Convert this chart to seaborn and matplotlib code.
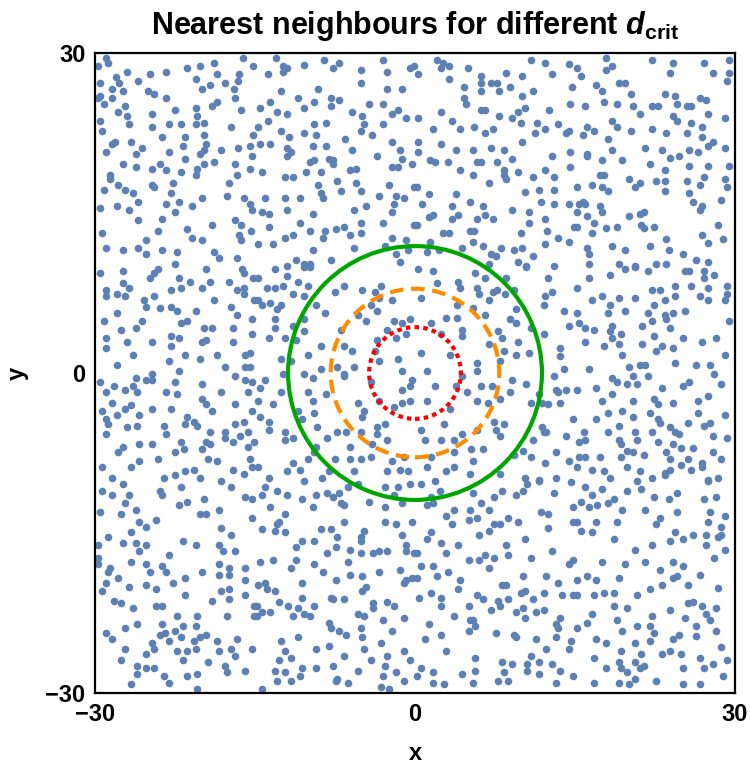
import numpy as np
import pandas as pd
import matplotlib
matplotlib.use("Agg")
import matplotlib.pyplot as plt
from matplotlib.patches import Circle
import seaborn as sns

# ---- data: point positions, grouped by region ----
pts_top_w = [(-29.0,29.5),(-28.75,29.1),(-29.75,28.75),(-16.1,29.5),(-15.2,28.75),(-27.0,28.2),(-28.0,27.75),(-27.75,27.2),(-29.55,27.2),(-26.0,27.4),(-24.85,28.0),(-23.3,28.2),(-21.35,28.55),(-20.15,28.75),(-18.8,29.1),(-18.6,28.0),(-20.55,27.6),(-17.8,27.2),(-16.5,28.0),(-16.6,27.4),(-17.0,26.6),(-19.2,27.0),(-20.0,26.6),(-28.4,26.6),(-27.4,26.4),(-28.4,25.8),(-29.55,26.0),(-29.75,25.8),(-29.15,25.2),(-25.05,26.4),(-24.45,26.2),(-23.3,25.8),(-19.0,25.0),(-18.6,25.4),(-16.85,25.8),(-20.55,24.85),(-27.2,25.0),(-27.8,24.45),(-27.0,24.05),(-24.65,24.25),(-22.5,24.65),(-16.3,24.65),(-20.4,24.05),(-29.55,23.65),(-26.8,23.3),(-24.65,23.1),(-23.1,23.3),(-21.95,23.3),(-20.55,23.3),(-19.8,23.45),(-17.25,23.1),(-29.35,22.7),(-19.8,22.3),(-21.55,22.1),(-23.7,22.1),(-15.2,22.3),(-28.15,21.7),(-28.4,21.5),(-26.6,21.7),(-19.6,21.5),(-21.75,21.3),(-25.6,21.1),(-28.95,20.7),(-26.2,20.5),(-23.1,20.7),(-19.8,20.9),(-18.2,20.9),(-16.6,21.1),(-15.45,21.3),(-20.15,20.5),(-15.3,20.35),(-21.55,20.1),(-18.8,19.75),(-19.8,19.55),(-23.9,19.55),(-27.4,19.55),(-26.2,19.35),(-24.65,19.15),(-23.3,19.0),(-21.95,18.8),(-20.4,19.15),(-20.55,18.6),(-16.85,19.55),(-15.45,19.15),(-16.65,18.6),(-28.55,18.6),(-28.55,18.2),(-22.7,17.8),(-17.45,17.8),(-29.15,17.2),(-27.8,17.6),(-27.2,17.2),(-24.65,17.6),(-24.45,17.4),(-26.4,16.85),(-22.9,16.85),(-20.0,16.45),(-17.6,16.6),(-16.05,16.45),(-26.0,16.05),(-22.1,16.05),(-15.45,15.85),(-29.55,15.45),(-27.95,15.65),(-26.8,15.25),(-23.3,15.85),(-20.95,15.65),(-22.5,15.05),(-15.3,15.25),(-23.7,14.45),(-26.0,14.3),(-16.85,14.3),(-16.3,13.9),(-19.0,13.9),(-21.35,13.5),(-24.1,13.3),(-29.35,13.1),(-15.35,13.3),(-16.5,12.9),(-16.3,12.5),(-20.95,12.7),(-20.0,12.5),(-25.25,12.5),(-28.95,11.75),(-27.4,11.55),(-26.0,11.75),(-23.7,11.55),(-22.3,11.35),(-25.25,11.15),(-18.8,11.35),(-18.4,10.8),(-16.65,10.8),(-22.5,10.2)]

pts_top_cw = [(-13.0,29.5),(-12.4,28.75),(-12.0,28.55),(-12.4,28.2),(-13.75,28.0),(-10.4,28.9),(-8.5,29.35),(-7.7,28.55),(-7.1,29.1),(-5.1,28.4),(-5.1,27.2),(-3.0,29.35),(-2.6,28.2),(-0.5,28.55),(-0.1,28.75),(-12.55,26.4),(-9.05,26.6),(-11.0,25.8),(-13.55,25.4),(-14.5,24.85),(-12.95,24.45),(-12.0,24.25),(-10.4,24.85),(-9.45,25.4),(-7.9,25.8),(-7.9,25.0),(-7.1,25.6),(-4.35,25.2),(-3.0,25.2),(-2.6,26.6),(-1.25,26.6),(-2.2,24.25),(-1.6,24.65),(-0.85,23.9),(-5.9,24.45),(-4.95,24.05),(-4.75,23.3),(-3.0,23.3),(-5.1,22.7),(-4.0,22.3),(-13.75,23.65),(-14.7,23.1),(-12.55,22.7),(-11.8,22.1),(-10.4,22.5),(-9.25,22.3),(-9.45,23.3),(-8.3,23.45),(-14.5,21.5),(-13.55,21.5),(-12.0,21.1),(-11.6,20.75),(-12.0,20.35),(-9.6,21.3),(-8.3,21.3),(-6.55,21.9),(-5.9,20.95),(-2.2,21.7),(-1.45,20.95),(-1.25,20.1),(-0.3,19.55),(-3.55,20.35),(-2.2,19.35),(-1.6,19.35),(-9.85,19.75),(-9.45,19.95),(-8.05,20.1),(-7.7,19.95),(-7.7,19.55),(-14.3,18.8),(-10.2,18.8),(-8.85,18.8),(-6.1,19.0),(-5.55,19.15),(-12.2,18.4),(-11.4,18.4),(-7.3,18.0),(-9.05,17.6),(-5.55,17.8),(-8.85,16.85),(-8.65,16.45),(-6.9,17.05),(-5.1,17.05),(-3.4,16.6),(-2.4,17.6),(-1.8,16.6),(-1.0,16.45),(-0.05,17.4),(-14.1,16.45),(-12.15,16.45),(-10.8,16.45),(-2.0,15.85),(-12.0,15.25),(-14.3,15.05),(-13.7,14.9),(-9.6,14.9),(-5.7,15.25),(-4.55,15.65),(-2.2,15.05),(-10.8,14.1),(-13.7,13.7),(-9.8,13.3),(-8.45,13.3),(-7.45,13.5),(-6.7,13.7),(-5.1,14.1),(-3.0,14.1),(-0.05,13.9),(-5.1,13.1),(-6.1,12.9),(-8.65,12.7),(-11.4,12.9),(-12.15,12.7),(-14.7,12.1),(-13.35,12.1),(-2.2,12.7),(-0.85,12.5),(-5.7,11.75),(-2.8,11.95),(-0.65,11.55),(-1.8,11.15),(-9.6,11.55),(-11.2,10.55),(-10.4,10.2),(-9.8,10.2),(-7.9,10.55),(-12.0,10.0),(-1.45,10.4)]

pts_top_ce = [(2.05,29.35),(2.6,29.1),(2.45,28.55),(3.2,28.75),(5.0,28.55),(0.3,28.0),(3.2,27.6),(6.15,27.8),(6.15,27.2),(7.1,27.2),(7.7,27.2),(8.5,28.15),(10.05,27.8),(10.85,29.35),(12.2,29.1),(12.8,28.0),(14.4,28.95),(14.75,26.8),(4.6,26.8),(4.8,25.2),(4.6,25.8),(6.15,26.4),(7.9,26.4),(8.9,26.8),(10.05,26.0),(11.05,26.4),(14.55,25.2),(6.15,24.65),(6.55,24.65),(10.3,24.85),(9.7,24.45),(12.6,24.65),(2.45,24.45),(0.3,23.9),(7.9,24.05),(9.1,23.9),(9.9,23.45),(11.45,23.45),(13.4,23.3),(14.2,22.5),(14.4,22.7),(12.2,22.9),(11.25,22.5),(3.45,23.65),(1.65,22.9),(4.2,22.9),(5.55,23.1),(6.55,22.5),(7.35,22.9),(0.3,21.7),(0.3,20.75),(2.45,21.5),(3.8,20.95),(5.4,20.95),(7.15,21.1),(8.3,20.95),(10.05,21.7),(14.55,20.75),(12.8,20.35),(1.45,19.95),(1.9,19.75),(3.05,19.75),(5.8,19.75),(6.15,19.75),(7.7,19.75),(9.1,20.1),(14.55,19.35),(4.2,19.0),(5.4,18.55),(8.3,19.0),(8.3,18.55),(8.5,18.2),(9.7,18.8),(11.05,18.4),(12.2,19.0),(13.0,18.4),(6.95,17.8),(0.15,17.4),(1.3,16.8),(0.7,15.85),(3.8,16.8),(10.3,17.0),(11.6,17.2),(13.0,17.2),(3.45,15.65),(5.2,16.05),(6.4,15.65),(9.1,15.25),(11.85,16.05),(13.0,15.85),(14.4,15.85),(1.3,14.65),(1.65,14.85),(3.45,14.45),(4.0,14.85),(5.8,14.45),(6.55,14.85),(7.35,14.45),(10.65,15.05),(10.65,14.05),(12.2,14.45),(14.95,13.7),(0.15,13.9),(2.65,13.1),(3.2,13.1),(5.2,13.3),(5.55,13.3),(5.4,12.3),(9.9,13.1),(12.4,13.3),(13.4,12.7),(14.4,12.3),(1.45,12.3),(1.1,11.35),(2.25,11.55),(4.4,11.75),(6.4,11.95),(8.1,11.75),(9.3,11.55),(10.05,11.75),(12.2,12.1),(7.15,11.15),(7.55,10.95),(11.05,10.95),(9.7,10.4),(6.95,10.2),(10.45,10.0),(13.0,10.0)]

pts_top_e = [(17.9,29.5),(15.2,28.55),(15.55,27.8),(17.9,28.4),(18.5,28.75),(22.2,29.35),(24.15,29.1),(23.95,28.15),(27.1,29.1),(27.9,28.15),(29.45,29.35),(29.45,28.15),(29.25,27.4),(16.95,27.0),(17.55,26.4),(19.1,27.2),(19.7,27.2),(20.25,26.2),(17.7,25.4),(18.9,25.2),(15.95,25.0),(20.45,25.0),(21.05,24.25),(23.4,26.2),(24.35,26.0),(24.55,25.2),(22.2,25.0),(22.8,25.0),(25.5,25.0),(25.9,25.0),(26.7,25.8),(27.3,25.6),(27.45,24.25),(24.15,24.05),(24.55,23.65),(25.9,23.45),(29.05,23.9),(18.5,23.65),(18.9,23.1),(16.15,23.1),(16.75,22.7),(15.75,22.3),(20.25,22.7),(22.2,22.9),(23.55,22.5),(25.5,22.5),(26.9,23.1),(26.9,22.1),(18.1,21.9),(18.5,20.95),(16.15,20.55),(16.15,20.35),(21.6,21.1),(23.2,20.95),(23.95,20.15),(24.75,20.35),(25.7,20.95),(26.5,20.75),(27.45,21.3),(27.9,21.7),(29.05,21.1),(17.55,19.95),(19.45,19.95),(22.0,19.55),(23.4,19.0),(25.7,19.4),(27.45,19.4),(29.45,19.4),(17.3,18.6),(17.7,18.6),(20.05,18.2),(21.05,17.8),(20.65,17.4),(22.6,18.0),(23.4,18.0),(23.4,17.05),(25.5,18.0),(27.1,18.4),(29.05,18.2),(29.25,17.4),(26.7,17.6),(25.7,16.85),(26.1,16.05),(26.9,15.65),(26.7,15.25),(28.65,16.25),(15.2,17.4),(16.55,17.6),(17.55,17.4),(18.1,17.05),(15.4,15.85),(15.75,16.05),(15.95,15.85),(17.3,15.65),(17.55,15.05),(15.2,15.05),(16.15,14.7),(16.75,14.1),(15.2,13.7),(16.55,13.1),(17.9,13.55),(18.9,13.7),(20.05,14.7),(21.05,14.9),(21.45,15.05),(21.2,13.9),(21.45,13.55),(22.4,13.7),(23.55,12.55),(23.8,11.55),(22.0,11.95),(18.5,11.95),(16.15,11.75),(16.35,11.15),(19.65,11.55),(25.1,11.15),(26.3,10.6),(27.45,10.4),(26.9,12.95),(27.45,12.15),(28.45,13.9),(28.85,12.55),(16.35,10.2),(19.1,10.2),(20.65,10.0),(22.6,10.2),(23.55,10.2)]

pts_mid_w = [(-29.55,9.35),(-27.4,9.55),(-24.85,8.95),(-24.45,9.35),(-24.05,9.75),(-22.1,8.95),(-21.1,8.55),(-19.55,9.75),(-19.2,8.55),(-17.45,8.55),(-16.25,9.75),(-16.05,9.35),(-15.2,8.95),(-19.95,7.95),(-21.9,7.95),(-22.9,7.8),(-28.95,7.8),(-28.95,7.2),(-27.95,7.4),(-27.2,7.2),(-27.4,8.4),(-26.8,7.95),(-24.45,7.2),(-25.45,6.8),(-25.2,6.2),(-23.9,6.05),(-22.9,6.2),(-22.3,5.8),(-20.55,5.8),(-18.8,6.8),(-17.25,6.2),(-16.65,5.45),(-16.05,7.95),(-16.05,7.4),(-16.65,7.8),(-15.1,6.8),(-27.95,5.6),(-29.15,4.85),(-27.6,4.05),(-26.2,4.25),(-25.6,4.85),(-21.9,4.65),(-21.35,4.85),(-19.8,4.25),(-19.0,4.25),(-17.05,4.25),(-15.3,5.05),(-15.3,3.65),(-28.95,3.3),(-28.95,2.3),(-27.0,2.9),(-24.65,2.9),(-22.9,3.45),(-22.1,3.3),(-22.9,2.5),(-19.95,2.9),(-19.55,3.1),(-17.05,2.9),(-26.4,1.7),(-21.55,1.7),(-20.15,1.3),(-18.6,1.7),(-15.9,1.7),(-15.45,1.9),(-23.1,1.1),(-27.95,0.75),(-17.8,0.55),(-15.9,0.55),(-15.45,0.55),(-22.1,0.15),(-24.65,-0.05),(-24.65,-0.65),(-25.25,-0.65),(-26.2,-0.45),(-29.55,-0.85),(-28.2,-1.2),(-28.95,-1.8),(-27.2,-1.6),(-26.4,-1.2),(-26.05,-1.8),(-23.3,-1.8),(-22.5,-0.85),(-22.3,-2.0),(-19.95,-1.05),(-18.2,-1.8),(-16.85,-0.25),(-15.9,-0.65),(-15.3,-0.85),(-15.7,-1.8),(-28.4,-2.8),(-26.6,-3.0),(-27.2,-3.4),(-29.35,-3.55),(-27.95,-3.95),(-25.85,-3.95),(-28.95,-4.35),(-28.75,-4.75),(-24.65,-3.4),(-22.9,-3.4),(-19.95,-2.4),(-19.55,-2.95),(-19.0,-3.55),(-16.85,-2.95),(-15.3,-3.55),(-28.95,-5.7),(-27.0,-5.1),(-26.05,-4.95),(-23.5,-4.95),(-23.3,-5.7),(-21.35,-4.15),(-21.55,-4.75),(-20.75,-4.55),(-20.4,-4.95),(-19.2,-5.55),(-17.8,-5.55),(-17.8,-6.1),(-16.85,-4.75),(-16.05,-4.55),(-15.7,-5.55),(-16.45,-5.9),(-17.05,-6.5),(-15.1,-6.5),(-15.7,-6.9),(-21.9,-6.5),(-21.7,-7.1),(-19.6,-6.5),(-19.2,-6.7),(-19.95,-7.1),(-24.65,-6.7),(-25.85,-6.7),(-27.4,-6.9),(-27.8,-7.45),(-22.5,-7.45),(-24.05,-8.05),(-25.85,-8.25),(-26.6,-8.85),(-29.35,-8.85),(-28.4,-9.8),(-23.5,-9.8),(-22.5,-9.6),(-21.55,-9.2),(-20.75,-9.05),(-20.15,-9.8),(-19.4,-8.05),(-18.6,-8.25),(-17.05,-9.05),(-16.05,-9.45),(-15.45,-8.05),(-15.3,-8.85)]

pts_mid_cw = [(-13.1,9.75),(-10.4,9.9),(-9.8,9.9),(-14.7,8.95),(-13.9,7.95),(-13.1,7.95),(-12.4,8.2),(-12.0,9.1),(-11.0,8.55),(-10.0,8.2),(-11.4,7.4),(-10.4,7.2),(-9.25,6.4),(-8.45,5.6),(-14.7,6.8),(-13.55,6.6),(-14.3,6.4),(-12.95,6.0),(-12.55,6.4),(-13.1,5.05),(-13.1,4.25),(-10.4,5.05),(-11.4,4.45),(-10.4,3.9),(-13.7,3.3),(-12.15,3.3),(-11.2,3.1),(-7.5,7.6),(-6.7,8.2),(-4.95,7.8),(-3.75,7.6),(-3.2,8.2),(-3.4,7.0),(-2.2,6.8),(-4.15,6.4),(-3.55,5.8),(-5.35,5.45),(-4.55,4.85),(-6.9,4.05),(-8.85,2.5),(-6.7,2.5),(-5.9,2.1),(-2.0,4.85),(-1.25,4.65),(-0.45,5.05),(-2.6,4.05),(-1.8,3.3),(-0.85,3.65),(-3.55,3.1),(-3.75,2.1),(-1.6,1.3),(-3.4,1.1),(-10.0,1.7),(-12.55,1.3),(-11.6,1.1),(-7.3,0.55),(-5.7,0.55),(-6.7,-0.05),(-6.7,-0.25),(-10.4,-0.05),(-9.6,-0.45),(-8.85,0.35),(-1.2,0.15),(-0.25,-0.65),(-12.35,-0.05),(-14.1,-0.65),(-14.5,-1.4),(-12.55,-1.8),(-10.0,-1.8),(-8.3,-2.0),(-14.7,-2.6),(-13.35,-2.95),(-9.6,-2.6),(-1.2,-1.6),(-0.45,-1.2),(-4.15,-0.85),(-3.4,-2.6),(-1.2,-2.8),(-0.45,-2.6),(-5.35,-2.8),(-4.75,-3.55),(-4.95,-4.15),(-2.0,-3.2),(-11.0,-3.55),(-9.45,-3.75),(-10.6,-4.35),(-14.5,-4.15),(-13.7,-4.55),(-13.7,-5.3),(-12.15,-5.55),(-11.4,-6.1),(-9.2,-5.1),(-7.3,-5.55),(-6.5,-5.55),(-5.1,-5.55),(-3.55,-5.1),(-2.8,-4.75),(-3.55,-5.7),(-2.6,-6.3),(-8.25,-6.1),(-9.25,-6.9),(-12.15,-6.3),(-6.1,-6.9),(-4.0,-6.7),(-2.2,-8.25),(-1.05,-7.9),(-5.1,-8.05),(-4.15,-7.9),(-6.1,-8.05),(-7.5,-8.05),(-10.05,-8.05),(-11.4,-8.45),(-12.0,-9.2),(-10.8,-9.05),(-14.7,-8.85),(-13.7,-9.8),(-2.6,-9.2),(-1.45,-9.05),(-0.65,-9.2),(-5.7,-9.2),(-8.05,-9.2),(-8.7,-9.8),(-9.45,-7.45)]

pts_mid_ce = [(0.3,9.75),(1.7,9.55),(5.6,9.35),(6.55,8.95),(8.5,8.95),(10.45,9.9),(12.45,8.95),(2.1,8.4),(4.05,8.55),(4.25,7.95),(5.8,7.95),(6.0,7.4),(7.35,7.6),(7.7,7.8),(8.4,7.4),(9.3,7.8),(6.95,6.8),(0.55,7.0),(3.9,6.4),(5.4,6.05),(9.5,6.0),(12.05,6.4),(12.2,7.2),(12.8,7.6),(14.0,5.8),(14.4,4.45),(2.9,5.2),(3.9,5.2),(6.55,5.45),(8.9,5.05),(9.5,4.65),(10.9,4.25),(1.5,4.65),(4.45,4.05),(4.45,3.45),(2.45,3.65),(7.75,3.9),(8.15,3.3),(12.05,3.65),(0.55,1.9),(3.25,1.7),(6.95,2.7),(8.35,2.1),(9.7,2.9),(10.7,1.9),(9.5,1.7),(13.6,2.3),(13.6,1.55),(14.0,0.35),(5.8,0.95),(5.8,0.15),(7.95,1.1),(1.15,0.15),(4.45,-0.25),(13.05,-0.25),(1.9,-1.2),(3.85,-1.2),(6.2,-1.2),(7.2,-1.2),(9.1,-0.65),(10.45,-1.05),(8.95,-1.8),(4.85,-1.8),(1.15,-2.6),(5.8,-2.6),(6.8,-2.8),(7.95,-2.4),(10.9,-2.8),(11.65,-2.0),(11.9,-2.8),(12.45,-2.95),(13.2,-1.6),(13.45,-1.8),(14.2,-1.6),(13.6,-2.8),(3.25,-3.4),(0.55,-5.3),(2.7,-4.75),(7.4,-4.55),(8.35,-4.75),(7.55,-5.3),(7.95,-5.9),(5.8,-5.3),(4.45,-5.7),(0.9,-6.3),(2.45,-6.3),(3.65,-6.3),(11.05,-6.3),(12.05,-5.55),(11.9,-5.1),(12.3,-5.55),(14.8,-4.35),(14.2,-5.9),(5.25,-7.1),(6.4,-7.1),(3.65,-7.45),(1.5,-7.9),(1.15,-8.85),(2.9,-9.2),(3.65,-8.85),(5.4,-8.25),(9.3,-7.65),(10.1,-7.3),(10.9,-7.9),(12.2,-8.45),(13.2,-7.45),(14.4,-8.25),(5.2,-9.45),(7.95,-9.45),(10.3,-9.8),(11.65,-10.0),(13.2,-9.8)]

pts_mid_e = [(16.35,8.95),(18.3,9.15),(19.7,9.75),(20.65,9.9),(21.8,9.55),(25.35,9.55),(25.7,9.55),(27.1,9.55),(27.1,8.95),(28.05,9.15),(15.2,7.95),(16.55,6.8),(17.55,7.2),(18.3,6.4),(19.1,7.0),(20.65,7.0),(22.2,7.8),(23.0,7.8),(22.4,6.4),(23.4,6.8),(24.35,8.2),(24.35,7.2),(25.9,8.2),(26.7,7.2),(27.45,7.95),(27.45,6.8),(29.25,8.2),(29.25,7.4),(29.05,6.8),(15.2,5.6),(18.1,5.6),(19.7,5.8),(21.8,5.6),(22.2,4.85),(23.4,5.45),(23.55,5.05),(24.15,5.6),(25.35,5.8),(23.95,4.25),(21.25,4.45),(15.4,4.65),(15.95,4.25),(16.75,4.05),(18.5,4.45),(18.3,3.9),(18.5,3.3),(19.3,3.65),(22.4,3.45),(15.95,2.9),(17.7,2.5),(19.1,2.7),(21.25,2.7),(22.6,2.1),(23.2,2.5),(24.15,2.3),(25.1,3.3),(26.9,2.9),(28.25,3.3),(29.45,4.85),(19.45,1.7),(29.05,1.7),(16.35,0.35),(20.05,0.55),(21.05,0.75),(21.6,0.75),(20.45,-0.25),(21.8,-0.25),(18.5,-0.45),(18.9,-0.85),(19.9,-1.05),(20.85,-1.05),(24.4,0.95),(26.3,0.75),(27.7,0.75),(28.05,-0.05),(28.65,-1.05),(25.7,-0.85),(25.1,-1.2),(23.2,-1.4),(15.2,-1.6),(16.95,-1.4),(18.5,-2.0),(17.55,-2.6),(20.45,-2.6),(22.4,-2.4),(22.8,-2.95),(24.15,-2.8),(26.55,-2.6),(27.5,-2.2),(29.05,-3.95),(26.5,-3.75),(18.1,-3.75),(19.45,-3.55),(16.95,-4.35),(20.45,-4.15),(22.05,-3.75),(22.8,-4.35),(23.0,-4.7),(25.55,-4.7),(27.1,-4.95),(27.7,-4.7),(19.1,-4.95),(15.8,-5.55),(18.1,-5.55),(20.65,-5.55),(22.2,-5.55),(23.95,-5.1),(24.4,-5.55),(24.75,-5.7),(15.4,-6.5),(15.95,-6.3),(19.1,-6.3),(19.3,-6.7),(20.85,-6.3),(22.8,-6.5),(24.15,-6.7),(24.95,-7.05),(26.1,-7.05),(27.9,-5.9),(29.25,-6.1),(27.9,-7.45),(28.65,-8.05),(19.9,-7.3),(20.45,-7.45),(21.45,-7.65),(19.3,-7.9),(17.35,-7.9),(15.4,-7.9),(15.95,-7.9),(23.55,-7.45),(23.95,-8.05),(25.55,-8.05),(26.9,-8.45),(26.9,-8.85),(24.95,-8.65),(23.95,-9.05),(23.4,-9.4),(23.4,-9.6),(22.2,-9.8),(21.05,-9.2),(19.9,-8.85),(17.7,-9.2),(16.55,-9.05),(15.2,-8.85),(18.3,-9.8),(25.9,-9.05),(28.45,-9.8),(27.45,-10.0)]

pts_bot_w = [(-27.4,-10.45),(-29.35,-11.05),(-28.4,-11.45),(-26.8,-11.45),(-23.9,-11.05),(-23.7,-11.45),(-21.95,-10.65),(-18.2,-10.1),(-17.25,-10.65),(-15.9,-11.6),(-15.3,-11.85),(-19.8,-11.85),(-21.35,-12.05),(-22.1,-12.4),(-27.2,-12.2),(-29.55,-13.0),(-27.6,-13.2),(-26.2,-12.8),(-20.15,-13.2),(-19.6,-13.2),(-18.4,-12.8),(-15.3,-13.6),(-24.3,-13.8),(-25.85,-13.95),(-25.25,-14.4),(-18.2,-14.55),(-17.25,-15.15),(-26.6,-14.95),(-28.75,-15.35),(-27.4,-15.95),(-26.2,-15.95),(-25.25,-16.1),(-25.85,-16.7),(-21.75,-15.75),(-20.55,-16.1),(-18.4,-16.1),(-18.0,-16.7),(-16.85,-16.7),(-29.75,-16.1),(-29.75,-17.3),(-29.75,-17.9),(-23.1,-17.1),(-26.6,-17.7),(-25.25,-17.9),(-23.7,-18.1),(-23.3,-18.7),(-24.85,-18.7),(-28.55,-18.3),(-28.75,-18.7),(-19.95,-18.7),(-18.4,-17.9),(-18.4,-18.9),(-17.45,-18.3),(-17.45,-18.9),(-15.9,-18.3),(-15.9,-19.45),(-15.9,-20.85),(-27.8,-19.25),(-28.95,-19.65),(-29.35,-20.45),(-26.8,-20.05),(-25.25,-19.85),(-24.3,-20.25),(-22.7,-19.65),(-21.55,-19.25),(-21.55,-20.85),(-18.2,-20.45),(-17.45,-20.25),(-17.45,-21.2),(-19.0,-21.4),(-28.2,-21.4),(-27.6,-21.6),(-26.4,-22.0),(-24.3,-21.8),(-23.7,-21.8),(-22.3,-22.8),(-20.4,-22.8),(-17.6,-22.8),(-15.1,-21.8),(-15.1,-22.8),(-28.95,-24.35),(-28.4,-24.95),(-27.2,-23.95),(-26.05,-23.55),(-23.7,-23.55),(-23.9,-24.55),(-23.45,-24.35),(-22.5,-24.15),(-21.75,-23.75),(-20.55,-23.75),(-21.95,-24.75),(-23.1,-25.1),(-20.75,-25.1),(-20.15,-24.75),(-19.6,-24.55),(-18.6,-25.1),(-16.65,-24.95),(-24.65,-25.3),(-24.45,-25.9),(-25.25,-26.3),(-27.2,-25.9),(-27.6,-26.9),(-22.3,-26.1),(-21.35,-26.1),(-20.55,-25.9),(-21.75,-26.9),(-19.4,-27.1),(-18.4,-26.1),(-17.25,-25.9),(-16.85,-26.5),(-15.3,-25.9),(-17.8,-27.45),(-17.6,-28.05),(-15.9,-27.9),(-26.05,-27.45),(-26.05,-28.25),(-25.25,-27.7),(-24.45,-27.7),(-23.5,-28.45),(-23.1,-29.05),(-26.6,-29.2),(-21.35,-28.45),(-20.4,-28.25),(-20.4,-29.6)]

pts_bot_cw = [(-10.4,-10.1),(-14.1,-10.65),(-14.3,-11.45),(-12.95,-11.05),(-12.0,-11.45),(-10.6,-11.85),(-9.25,-11.45),(-8.25,-11.25),(-7.65,-11.6),(-7.1,-11.25),(-6.9,-12.2),(-6.7,-12.4),(-6.3,-10.65),(-5.3,-10.45),(-4.35,-12.05),(-2.8,-10.65),(-1.6,-10.65),(-0.45,-10.45),(-2.0,-11.45),(-1.2,-12.2),(-2.8,-12.6),(-13.55,-12.6),(-12.15,-13.2),(-9.6,-12.6),(-12.75,-14.0),(-12.95,-14.2),(-13.15,-14.8),(-14.3,-14.6),(-12.15,-14.95),(-8.85,-14.6),(-7.9,-14.6),(-7.3,-15.35),(-6.7,-14.0),(-10.6,-15.75),(-9.45,-15.75),(-11.2,-16.35),(-8.25,-16.9),(-7.45,-16.35),(-6.1,-16.55),(-5.1,-15.35),(-5.1,-15.75),(-4.75,-14.8),(-2.8,-14.0),(-1.8,-14.2),(-1.2,-15.15),(-0.25,-14.0),(-0.85,-16.1),(-0.85,-16.7),(-0.05,-16.9),(-3.95,-16.9),(-3.4,-16.7),(-2.6,-16.7),(-5.1,-16.9),(-14.55,-17.7),(-13.35,-17.5),(-11.2,-17.5),(-11.6,-18.3),(-9.45,-17.9),(-8.65,-18.7),(-6.3,-17.7),(-6.1,-18.9),(-4.95,-19.05),(-3.4,-18.7),(-1.45,-18.45),(-0.25,-19.25),(-1.05,-19.65),(-0.85,-19.45),(-7.45,-19.45),(-10.6,-19.65),(-14.7,-19.85),(-14.1,-19.65),(-13.9,-20.25),(-13.15,-20.45),(-4.55,-20.05),(-4.95,-20.45),(-12.75,-21.45),(-11.95,-21.8),(-11.0,-22.0),(-10.6,-21.05),(-9.45,-21.8),(-7.9,-21.05),(-7.7,-21.2),(-6.7,-21.2),(-3.95,-21.6),(-3.95,-22.0),(-2.6,-21.45),(-2.0,-21.8),(-1.05,-22.95),(-14.85,-21.8),(-14.3,-22.4),(-13.55,-22.4),(-14.85,-22.8),(-11.4,-22.8),(-10.4,-22.6),(-9.8,-22.8),(-8.05,-23.4),(-7.9,-23.95),(-7.1,-24.15),(-6.5,-24.55),(-5.35,-22.6),(-4.75,-22.8),(-5.1,-23.95),(-4.95,-24.75),(-3.0,-23.2),(-2.2,-24.15),(-11.0,-24.75),(-12.55,-25.1),(-12.15,-26.1),(-11.6,-26.7),(-12.75,-26.9),(-9.25,-25.9),(-8.05,-25.55),(-6.7,-26.5),(-4.75,-25.9),(-4.15,-26.9),(-3.2,-25.35),(-2.6,-26.5),(-1.05,-26.1),(-0.45,-26.9),(-2.8,-27.45),(-3.0,-28.45),(-1.8,-28.05),(-1.05,-28.85),(-13.15,-27.9),(-12.15,-28.05),(-10.8,-28.45),(-10.6,-27.7),(-9.25,-27.7),(-7.7,-27.45),(-7.45,-28.85),(-7.3,-28.65),(-6.3,-29.05),(-5.35,-27.9),(-12.95,-28.85),(-11.6,-28.85),(-14.3,-29.6),(-3.2,-29.45),(-2.4,-29.6)]

pts_bot_ce = [(0.55,-10.45),(1.9,-10.1),(2.3,-11.05),(1.5,-11.6),(1.15,-12.4),(1.7,-12.2),(5.4,-11.25),(7.4,-11.6),(8.15,-11.05),(9.5,-11.45),(10.1,-11.05),(10.5,-10.45),(11.65,-10.1),(13.05,-11.25),(14.6,-10.25),(14.8,-12.6),(2.9,-13.4),(3.65,-12.8),(3.45,-14.2),(5.2,-12.8),(5.05,-13.8),(5.8,-13.6),(6.2,-12.2),(6.95,-12.8),(6.0,-15.15),(6.95,-14.8),(7.4,-14.2),(7.95,-14.2),(8.7,-13.6),(9.7,-14.0),(11.85,-13.0),(12.45,-13.2),(12.45,-14.55),(1.5,-14.95),(1.15,-15.55),(2.45,-15.95),(4.05,-16.1),(2.9,-16.9),(0.15,-16.9),(0.55,-18.1),(1.7,-18.1),(5.05,-17.5),(6.0,-17.5),(6.6,-17.1),(7.4,-17.3),(6.95,-18.3),(8.55,-16.1),(8.7,-17.1),(10.3,-15.55),(10.9,-17.3),(12.8,-16.7),(14.4,-17.9),(14.8,-17.5),(14.8,-14.0),(2.1,-19.05),(3.05,-18.7),(4.25,-19.45),(4.05,-20.25),(0.15,-19.25),(0.35,-21.05),(1.5,-20.6),(2.45,-21.05),(2.45,-21.8),(5.8,-20.85),(6.4,-21.2),(5.05,-21.8),(3.65,-22.8),(7.75,-21.4),(7.95,-21.8),(7.15,-22.2),(8.7,-21.2),(8.15,-19.85),(8.55,-19.85),(10.1,-19.05),(9.9,-20.6),(10.3,-20.45),(11.05,-21.2),(12.05,-20.6),(12.25,-19.05),(13.4,-19.65),(13.8,-20.85),(14.8,-20.85),(9.5,-22.4),(10.1,-22.0),(11.3,-22.4),(12.05,-22.2),(10.3,-22.95),(5.2,-23.2),(5.4,-23.2),(5.6,-23.75),(5.05,-24.15),(1.3,-23.55),(2.45,-24.55),(0.95,-24.95),(2.9,-26.1),(7.55,-24.35),(9.3,-24.55),(9.5,-24.75),(11.3,-24.95),(13.2,-23.55),(13.4,-23.95),(13.6,-22.95),(13.2,-24.75),(14.6,-25.1),(14.4,-25.9),(12.25,-25.9),(10.9,-26.5),(5.6,-26.7),(8.15,-27.1),(9.1,-27.3),(10.5,-27.3),(11.65,-27.1),(12.85,-27.3),(13.6,-27.9),(0.55,-27.7),(1.7,-28.05),(4.45,-28.25),(5.6,-27.9),(8.35,-28.05),(10.5,-27.9),(11.65,-28.25),(0.15,-28.45),(1.7,-29.05),(2.7,-29.2),(5.4,-29.05),(7.75,-28.85),(8.7,-28.85),(13.2,-29.05),(14.8,-28.45)]

pts_bot_e = [(15.95,-10.65),(17.55,-10.85),(19.9,-11.05),(20.85,-10.1),(21.2,-10.85),(22.4,-11.6),(23.8,-11.85),(24.55,-11.25),(27.1,-11.85),(28.25,-11.6),(27.45,-10.1),(16.55,-11.45),(15.55,-12.05),(16.35,-12.6),(17.1,-12.4),(18.1,-12.2),(18.7,-11.85),(19.45,-12.8),(21.6,-12.8),(24.55,-13.0),(27.65,-13.0),(29.05,-13.4),(15.2,-14.0),(16.95,-14.0),(18.9,-14.0),(23.0,-13.6),(22.6,-14.2),(27.45,-14.0),(28.65,-14.4),(15.55,-14.8),(16.55,-14.95),(18.7,-15.55),(22.2,-16.1),(23.95,-15.75),(24.35,-14.95),(25.1,-15.55),(26.1,-15.15),(27.3,-15.15),(27.3,-16.1),(28.45,-15.35),(28.65,-15.15),(29.05,-16.55),(20.65,-16.55),(28.05,-17.3),(17.55,-17.7),(19.65,-17.9),(21.6,-17.7),(23.0,-18.45),(24.15,-17.7),(25.1,-18.1),(26.7,-18.9),(24.15,-19.25),(24.55,-19.05),(16.15,-19.05),(16.95,-19.45),(19.1,-19.25),(23.2,-19.85),(25.55,-19.85),(28.45,-20.2),(15.2,-19.45),(15.2,-20.85),(16.75,-20.85),(17.7,-20.6),(18.7,-20.6),(20.85,-20.85),(22.0,-20.25),(18.7,-21.8),(19.9,-22.0),(25.55,-21.6),(26.1,-21.45),(26.9,-21.8),(28.25,-22.0),(27.3,-22.6),(27.7,-23.15),(23.95,-22.2),(22.2,-22.8),(25.35,-22.95),(16.55,-22.6),(16.15,-23.4),(18.9,-23.15),(15.2,-23.95),(20.85,-23.75),(22.0,-23.75),(22.4,-24.35),(26.3,-23.75),(26.3,-24.7),(28.25,-24.15),(16.95,-24.95),(17.9,-25.3),(19.45,-24.15),(20.65,-25.3),(22.0,-25.1),(24.15,-24.95),(24.75,-24.55),(19.3,-26.1),(21.2,-26.3),(23.2,-26.3),(23.95,-26.1),(24.95,-26.3),(28.65,-25.7),(16.75,-26.7),(19.1,-27.1),(20.65,-27.1),(21.45,-27.45),(21.05,-27.7),(19.3,-27.7),(17.9,-27.7),(19.9,-28.05),(25.1,-27.7),(26.7,-26.7),(27.9,-27.3),(27.1,-27.7),(29.25,-26.9),(16.75,-29.05),(19.1,-29.05),(20.05,-29.2),(20.65,-28.65),(22.6,-28.85),(25.1,-29.2),(26.7,-29.2),(28.85,-28.45)]

# radii of the three neighbourhood circles (d_crit values)
d_crit = [11.9, 7.9, 4.3]
circle_colors = ["#00A600", "#FF8C00", "#FF0000"]
circle_styles = ["solid", (0, (3.3, 1.8)), (0, (1.1, 1.0))]

x_ticks = [-30, 0, 30]
y_ticks = [-30, 0, 30]
tick_labels = ["\u221230", "0", "30"]

all_pts = (pts_top_w + pts_top_cw + pts_top_ce + pts_top_e +
           pts_mid_w + pts_mid_cw + pts_mid_ce + pts_mid_e +
           pts_bot_w + pts_bot_cw + pts_bot_ce + pts_bot_e)
df = pd.DataFrame(all_pts, columns=["x", "y"])

sns.set_style("white")
plt.rcParams["font.family"] = ["Liberation Sans", "DejaVu Sans"]
plt.rcParams["text.color"] = "black"
plt.rcParams["axes.labelcolor"] = "black"
plt.rcParams["xtick.color"] = "black"
plt.rcParams["ytick.color"] = "black"
plt.rcParams["mathtext.fontset"] = "custom"
plt.rcParams["mathtext.rm"] = "Liberation Sans:bold"
plt.rcParams["mathtext.bf"] = "Liberation Sans:bold"
plt.rcParams["mathtext.it"] = "Liberation Sans:italic:bold"

fig = plt.figure(figsize=(7.5, 7.75), dpi=100)
ax = fig.add_axes([0.1267, 0.1058, 0.8533, 0.8258])

sns.scatterplot(data=df, x="x", y="y", ax=ax, color="#5E81B5", s=30,
                linewidth=0, legend=False, zorder=2)

for r, c, ls in zip(d_crit, circle_colors, circle_styles):
    ax.add_patch(Circle((0, 0), r, fill=False, edgecolor=c, linewidth=3.0,
                        linestyle=ls, zorder=3))

ax.set_xlim(-30, 30)
ax.set_ylim(-30, 30)
ax.set_xticks(x_ticks)
ax.set_yticks(y_ticks)
ax.set_xticklabels(tick_labels)
ax.set_yticklabels(tick_labels)
ax.tick_params(axis="both", length=0, labelsize=17, pad=7)
for lab in ax.get_xticklabels() + ax.get_yticklabels():
    lab.set_fontweight("bold")

for sp in ax.spines.values():
    sp.set_color("black")
    sp.set_linewidth(1.6)

ax.set_xlabel("x", fontsize=17, fontweight="bold", labelpad=12)
ax.set_ylabel("y", fontsize=17, fontweight="bold", labelpad=12)
ax.set_title(r"Nearest neighbours for different $d_{\mathbf{crit}}$",
             fontsize=22, fontweight="bold", pad=14)

fig.savefig("out.png", dpi=100)
